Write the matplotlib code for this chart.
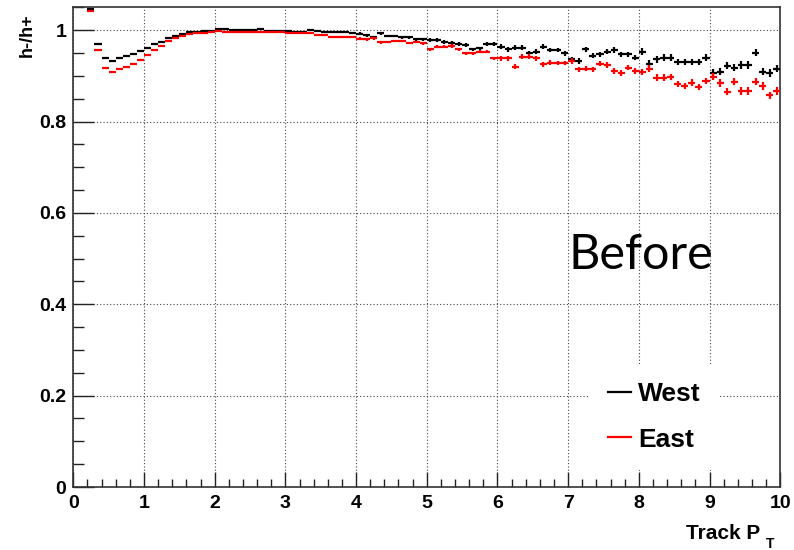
import matplotlib
matplotlib.use("Agg")
import matplotlib.pyplot as plt
from matplotlib.lines import Line2D
import numpy as np

# bin centres (bin width 0.1), first filled bin 0.2-0.3
pt_centers = [round(0.25 + 0.1 * i, 2) for i in range(98)]

west = [1.046, 0.970, 0.938, 0.933, 0.938, 0.943, 0.947, 0.955, 0.961, 0.969,
        0.975, 0.982, 0.987, 0.991, 0.995, 0.997, 0.998, 0.999, 1.002, 1.002,
        1.001, 1.001, 1.000, 1.001, 1.003, 0.999, 0.999, 0.998, 0.998, 0.996,
        0.997, 1.000, 0.998, 0.997, 0.995, 0.995, 0.995, 0.993, 0.992, 0.989,
        0.984, 0.993, 0.987, 0.987, 0.984, 0.984, 0.980, 0.980, 0.978, 0.978,
        0.974, 0.972, 0.969, 0.968, 0.958, 0.960, 0.969, 0.969, 0.964, 0.958,
        0.962, 0.962, 0.950, 0.953, 0.964, 0.957, 0.957, 0.949, 0.936, 0.932,
        0.958, 0.944, 0.947, 0.953, 0.957, 0.947, 0.947, 0.940, 0.953, 0.927,
        0.936, 0.940, 0.940, 0.930, 0.930, 0.930, 0.930, 0.940, 0.907, 0.909,
        0.922, 0.918, 0.924, 0.924, 0.951, 0.909, 0.906, 0.916]

east = [1.043, 0.956, 0.917, 0.909, 0.914, 0.920, 0.926, 0.934, 0.945, 0.956,
        0.965, 0.977, 0.983, 0.987, 0.991, 0.993, 0.994, 0.995, 0.998, 0.997,
        0.997, 0.996, 0.997, 0.995, 0.996, 0.997, 0.995, 0.996, 0.994, 0.993,
        0.993, 0.993, 0.990, 0.989, 0.984, 0.986, 0.984, 0.984, 0.981, 0.980,
        0.982, 0.973, 0.974, 0.976, 0.976, 0.972, 0.974, 0.971, 0.958, 0.964,
        0.964, 0.965, 0.958, 0.949, 0.949, 0.953, 0.953, 0.938, 0.938, 0.938,
        0.920, 0.942, 0.942, 0.938, 0.925, 0.929, 0.928, 0.928, 0.933, 0.914,
        0.916, 0.914, 0.927, 0.924, 0.911, 0.906, 0.918, 0.911, 0.909, 0.916,
        0.896, 0.896, 0.898, 0.882, 0.878, 0.885, 0.876, 0.889, 0.898, 0.884,
        0.865, 0.887, 0.867, 0.867, 0.887, 0.878, 0.857, 0.867]

west_err = [0.001, 0.001, 0.001, 0.001, 0.001, 0.001, 0.001, 0.001, 0.001, 0.001,
            0.001, 0.001, 0.001, 0.001, 0.001, 0.001, 0.001, 0.001, 0.002, 0.002,
            0.002, 0.002, 0.002, 0.002, 0.002, 0.002, 0.002, 0.002, 0.002, 0.002,
            0.002, 0.002, 0.002, 0.002, 0.002, 0.002, 0.002, 0.002, 0.003, 0.003,
            0.003, 0.003, 0.003, 0.003, 0.003, 0.003, 0.003, 0.003, 0.004, 0.004,
            0.004, 0.004, 0.004, 0.004, 0.004, 0.004, 0.004, 0.004, 0.005, 0.005,
            0.005, 0.005, 0.005, 0.005, 0.005, 0.005, 0.005, 0.005, 0.006, 0.006,
            0.006, 0.006, 0.006, 0.006, 0.006, 0.006, 0.006, 0.006, 0.007, 0.007,
            0.007, 0.007, 0.007, 0.007, 0.007, 0.007, 0.007, 0.007, 0.008, 0.008,
            0.008, 0.008, 0.008, 0.008, 0.008, 0.008, 0.008, 0.008]
east_err = west_err

labels = ["West", "East"]
colors = ["black", "red"]

fig = plt.figure(figsize=(7.94, 5.5), dpi=100)
ax = fig.add_axes([0.0923, 0.1145, 0.8904, 0.8722])

for vals, err, col in zip([west, east], [west_err, east_err], colors):
    ax.errorbar(pt_centers, vals, xerr=0.05, yerr=err, fmt='none',
                ecolor=col, elinewidth=1.6, capsize=0, zorder=3)

ax.set_xlim(0, 10)
ax.set_ylim(0, 1.05)
ax.set_xticks(np.arange(0, 11, 1))
ax.set_xticks(np.arange(0, 10.01, 0.2), minor=True)
ax.set_yticks([0, 0.2, 0.4, 0.6, 0.8, 1.0])
ax.set_yticklabels(["0", "0.2", "0.4", "0.6", "0.8", "1"])
ax.set_yticks(np.arange(0, 1.051, 0.05), minor=True)

ax.tick_params(axis='both', which='both', direction='in', top=False, right=False,
               color='#222222', width=1.0)
ax.tick_params(axis='x', which='major', length=11, pad=6)
ax.tick_params(axis='x', which='minor', length=5.5)
ax.tick_params(axis='y', which='major', length=15, pad=5)
ax.tick_params(axis='y', which='minor', length=8)
for lab in ax.get_xticklabels() + ax.get_yticklabels():
    lab.set_fontfamily('Liberation Sans')
    lab.set_fontweight('bold')
    lab.set_fontsize(14)

ax.grid(True, which='major', linestyle=(0, (1, 2)), color='#444444', linewidth=0.8)
for s in ax.spines.values():
    s.set_color('#333333')
    s.set_linewidth(1.2)

handles = [Line2D([0], [0], color=c, lw=1.6) for c in colors]
leg = ax.legend(handles, labels, loc='lower left', bbox_to_anchor=(0.711, 0.008),
                frameon=True, fancybox=False, edgecolor='none', facecolor='white',
                framealpha=1.0, handlelength=0.9, handletextpad=0.25,
                labelspacing=0.8, borderpad=0.7,
                prop={'family': 'Liberation Sans', 'weight': 'bold', 'size': 19})
leg.set_zorder(5)

ax.text(0.70, 0.484, "Before", transform=ax.transAxes, ha='left', va='center',
        fontsize=35, family='Lato', color='black', zorder=6)

fig.text(0.034, 0.976, "h-/h+", rotation=90, ha='center', va='top',
         fontsize=13, fontweight='bold', family='Liberation Sans')
fig.text(0.957, 0.020, "Track P", ha='right', va='baseline',
         fontsize=15, fontweight='bold', family='Liberation Sans')
fig.text(0.965, 0.004, "T", ha='left', va='baseline',
         fontsize=10, fontweight='bold', family='Liberation Sans')

fig.savefig("out.png", dpi=100)
